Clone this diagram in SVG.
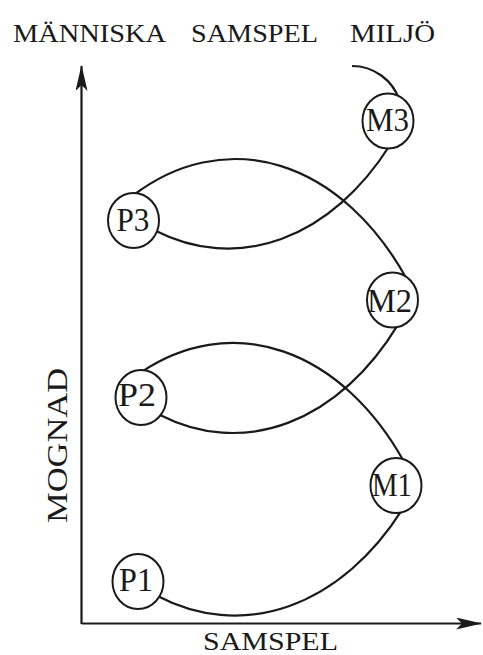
<svg xmlns="http://www.w3.org/2000/svg" width="483" height="655" viewBox="0 0 483 655">
  <defs>
    <marker id="head" viewBox="0 0 26 12" refX="25" refY="6" markerWidth="26" markerHeight="12" markerUnits="userSpaceOnUse" orient="auto">
      <path d="M0,0 L26,6 L0,12 L6,6 Z" fill="#1a1a1a"/>
    </marker>
  </defs>
  <style>
    .axis { stroke: #1a1a1a; stroke-width: 2.2; fill: none; }
    .link { stroke: #1a1a1a; stroke-width: 2.2; fill: none; }
    .node ellipse { fill: #ffffff; stroke: #1a1a1a; stroke-width: 2; }
    .node text { font-family: "Liberation Serif", "Times New Roman", serif; font-size: 34px; fill: #1a1a1a; text-anchor: middle; }
    .label { font-family: "Liberation Serif", "Times New Roman", serif; fill: #1a1a1a; }
  </style>
  <rect width="483" height="655" fill="#ffffff"/>

  <!-- headings -->
  <g id="headings" class="label" font-size="26">
    <text x="13" y="41.5" textLength="153" lengthAdjust="spacingAndGlyphs">MÄNNISKA</text>
    <text x="191" y="41.5" textLength="127" lengthAdjust="spacingAndGlyphs">SAMSPEL</text>
    <text x="350" y="41.5" textLength="85" lengthAdjust="spacingAndGlyphs">MILJÖ</text>
  </g>

  <!-- axes -->
  <g id="axes">
    <path class="axis" d="M81.5,624 L81.5,66" marker-end="url(#head)"/>
    <path class="axis" d="M81.5,623.5 L481,623.5" marker-end="url(#head)"/>
    <text class="label" x="203" y="650" font-size="26" textLength="135" lengthAdjust="spacingAndGlyphs">SAMSPEL</text>
    <text class="label" transform="translate(67,523) rotate(-90)" x="0" y="0" font-size="30" textLength="155" lengthAdjust="spacingAndGlyphs">MOGNAD</text>
  </g>

  <!-- connectors -->
  <g id="connectors">
    <path class="link" d="M157,595.7 A225,320 0 0 0 402,509.9"/>
    <path class="link" d="M141,372.3 A220,320 0 0 1 404,461.7"/>
    <path class="link" d="M160,414.9 A220,320 0 0 0 398,324.6"/>
    <path class="link" d="M133,195.5 A220,320 0 0 1 407,279.5"/>
    <path class="link" d="M155,230.4 A220,320 0 0 0 390,145"/>
    <path class="link" d="M352,66 A50,50 0 0 1 399.5,100.4"/>
  </g>

  <!-- nodes -->
  <g id="P1" class="node">
    <ellipse cx="138" cy="581.5" rx="25.5" ry="27.5"/>
    <text x="136" y="591" textLength="34" lengthAdjust="spacingAndGlyphs">P1</text>
  </g>
  <g id="P2" class="node">
    <ellipse cx="141" cy="397.5" rx="25.5" ry="27.5"/>
    <text x="137" y="406" textLength="38" lengthAdjust="spacingAndGlyphs">P2</text>
  </g>
  <g id="P3" class="node">
    <ellipse cx="133.5" cy="220.5" rx="25.5" ry="27.5"/>
    <text x="133" y="231" textLength="33" lengthAdjust="spacingAndGlyphs">P3</text>
  </g>
  <g id="M1" class="node">
    <ellipse cx="396" cy="485.5" rx="25.5" ry="27.5"/>
    <text x="392" y="496" textLength="40" lengthAdjust="spacingAndGlyphs">M1</text>
  </g>
  <g id="M2" class="node">
    <ellipse cx="392.5" cy="300" rx="25.5" ry="27.5"/>
    <text x="389.5" y="312" textLength="45" lengthAdjust="spacingAndGlyphs">M2</text>
  </g>
  <g id="M3" class="node">
    <ellipse cx="388" cy="121" rx="25.5" ry="27.5"/>
    <text x="387.5" y="131" textLength="43" lengthAdjust="spacingAndGlyphs">M3</text>
  </g>
</svg>
